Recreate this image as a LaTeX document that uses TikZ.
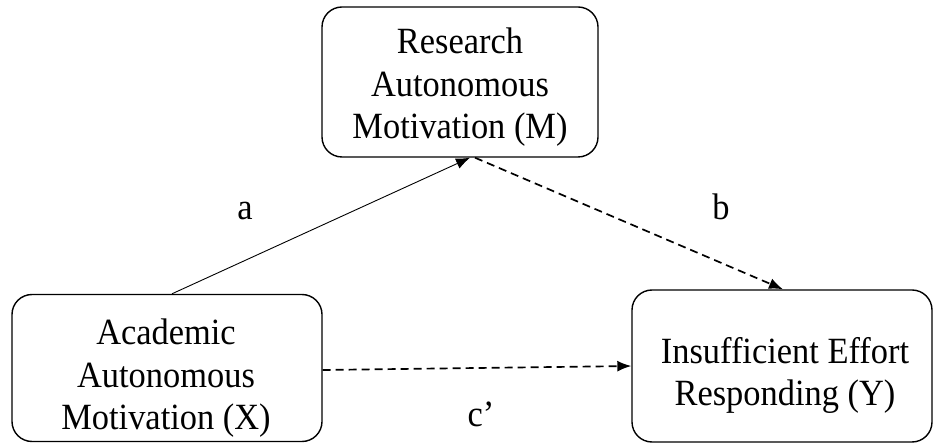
\documentclass[tikz,border=0pt]{standalone}
\usepackage{fontspec}
\setmainfont{Liberation Serif}
\newfontfamily\modelfont[FakeStretch=0.93]{Liberation Serif}
\usetikzlibrary{arrows.meta}
\begin{document}
\begin{tikzpicture}[x=1pt,y=1pt,
  box/.style={draw, line width=1.4pt, rounded corners=20pt, inner sep=0pt},
  boxtext/.style={font=\modelfont\fontsize{37}{42.5}\selectfont, align=center, inner sep=0pt},
  pathlabel/.style={font=\modelfont\fontsize{37}{42.5}\selectfont, inner sep=0pt, anchor=base},
  solidarrow/.style={line width=0.9pt, -{Latex[length=14pt,width=11pt]}},
  dasharrow/.style={line width=1.7pt, dash pattern=on 8pt off 5pt, -{Latex[length=14pt,width=11pt]}}]
\useasboundingbox (0,0) rectangle (934,444);

% boxes of the mediation model
\node[box, minimum width=276pt, minimum height=150pt] (M) at (460,362) {};
\node[box, minimum width=310pt, minimum height=147pt] (X) at (167,76) {};
\node[box, minimum width=300pt, minimum height=152pt] (Y) at (782,78) {};

% box texts
\node[boxtext] (Mtext) at (460,356.5) {Research\\Autonomous\\Motivation (M)};
\node[boxtext] (Xtext) at (166,65.5) {Academic\\Autonomous\\Motivation (X)};
\node[boxtext] (Ytext) at (785,68.5) {Insufficient Effort\\Responding (Y)};

% paths
\draw[solidarrow] ([xshift=5pt]X.north) -- ([xshift=10pt]M.south);
\draw[dasharrow] ([xshift=15pt]M.south) -- ([xshift=1pt]Y.north);
\draw[dasharrow] ([yshift=-2pt]X.east) -- (Y.west);

% path labels
\node[pathlabel] (la) at (245,224) {a};
\node[pathlabel] (lb) at (721,224) {b};
\node[pathlabel] (lc) at (481,17) {c’};
\end{tikzpicture}
\end{document}
